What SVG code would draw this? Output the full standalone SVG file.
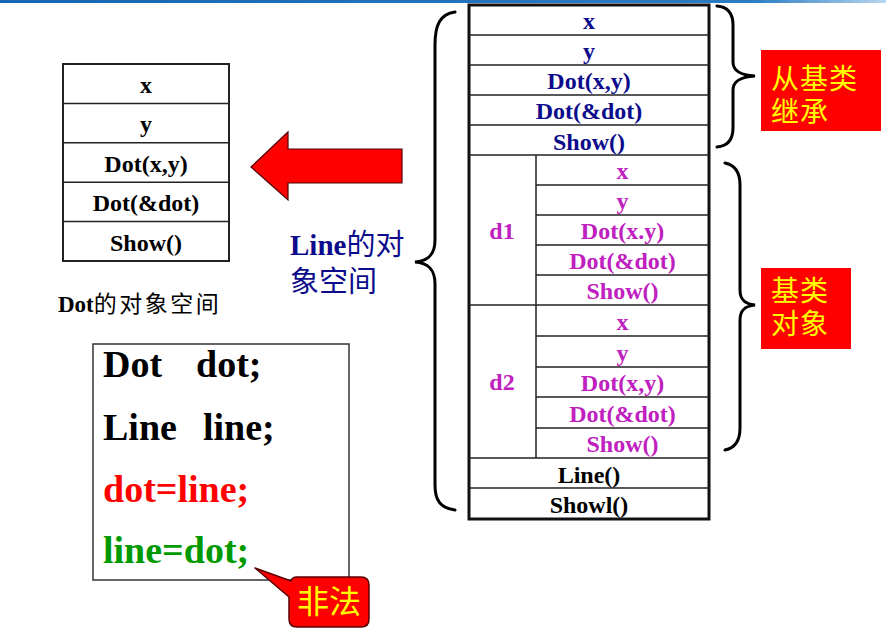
<svg xmlns="http://www.w3.org/2000/svg" width="886" height="634" viewBox="0 0 886 634">
<defs>
<linearGradient id="topbar" x1="0" y1="0" x2="1" y2="0">
<stop offset="0" stop-color="#1565b4"/>
<stop offset="0.85" stop-color="#2a7cc4"/>
<stop offset="1" stop-color="#b8d6ee"/>
</linearGradient>
<style>
.ser{font-family:"Liberation Serif","Times New Roman",serif;font-weight:bold;}
.cjk{font-family:"Noto Sans CJK SC","Noto Sans",sans-serif;font-weight:normal;}
.cjk2{font-family:"Liberation Sans","Noto Sans CJK SC",sans-serif;font-weight:normal;}
.t24{font-size:24px;text-anchor:middle;}
.navy{fill:#0b0b8c;}
.mag{fill:#c020c0;}
.blk{fill:#000;}
.ln{stroke:#222;stroke-width:1.5;fill:none;}
.brace{stroke:#000;stroke-width:3;fill:none;stroke-linecap:round;}
.ylw{fill:#ffff00;font-size:28px;letter-spacing:1px;}
.code{font-size:38px;}
</style>
</defs>
<rect width="886" height="634" fill="#fff"/>
<rect x="0" y="0" width="886" height="3" fill="url(#topbar)"/>

<g id="dot-table">
<rect x="63" y="64" width="166" height="197" fill="#fff" stroke="#222" stroke-width="2"/>
<path class="ln" d="M63,103.4H229M63,142.8H229M63,182.2H229M63,221.6H229"/>
<g class="ser t24 blk">
<text x="146" y="93">x</text>
<text x="146" y="132">y</text>
<text x="146" y="171.5">Dot(x,y)</text>
<text x="146" y="211">Dot(&amp;dot)</text>
<text x="146" y="250.5">Show()</text>
</g>
</g>

<g id="dot-label">
<text x="58" y="312" font-size="23"><tspan class="ser">Dot</tspan><tspan class="cjk" letter-spacing="2.5">的对象空间</tspan></text>
</g>

<g id="line-label">
<text x="290" y="255" font-size="29" class="navy"><tspan class="ser">Line</tspan><tspan class="cjk">的对</tspan></text>
<text x="290" y="292" font-size="29" class="navy cjk">象空间</text>
</g>

<g id="line-table">
<rect x="469" y="5" width="240" height="514" fill="#fff" stroke="#111" stroke-width="3"/>
<path class="ln" d="M469,35H709M469,65H709M469,95H709M469,125H709M469,155H709M536,185H709M536,215H709M536,245H709M536,275H709M469,305H709M536,336H709M536,367H709M536,397H709M536,428H709M469,458H709M469,488H709M536,155V458"/>
<g class="ser t24 navy">
<text x="589" y="29">x</text>
<text x="589" y="59">y</text>
<text x="589" y="89">Dot(x,y)</text>
<text x="589" y="119">Dot(&amp;dot)</text>
<text x="589" y="149.5">Show()</text>
</g>
<g class="ser t24 mag">
<text x="622.5" y="179">x</text>
<text x="622.5" y="209">y</text>
<text x="622.5" y="239">Dot(x.y)</text>
<text x="622.5" y="269">Dot(&amp;dot)</text>
<text x="622.5" y="299">Show()</text>
<text x="622.5" y="330">x</text>
<text x="622.5" y="360.5">y</text>
<text x="622.5" y="391">Dot(x,y)</text>
<text x="622.5" y="421.5">Dot(&amp;dot)</text>
<text x="622.5" y="452">Show()</text>
<text x="502" y="239">d1</text>
<text x="502" y="390">d2</text>
</g>
<g class="ser t24 blk">
<text x="589" y="482.5">Line()</text>
<text x="589" y="513">Showl()</text>
</g>
</g>

<g id="code-box">
<rect x="93" y="344" width="256" height="236" fill="#fff" stroke="#333" stroke-width="1.5"/>
<g class="ser code">
<text y="377" class="blk"><tspan x="103">Dot</tspan><tspan x="196">dot;</tspan></text>
<text y="440" class="blk"><tspan x="103">Line</tspan><tspan x="203">line;</tspan></text>
<text x="103" y="502" fill="#ff0000">dot=line;</text>
<text x="103" y="563" fill="#009a00">line=dot;</text>
</g>
</g>

<g id="callout-illegal">
<path d="M297,577 L361,577 Q369,577 369,585 L369,619 Q369,627 361,627 L297,627 Q289,627 289,619 L289,597 L255,568 L291,581 Q292,577 297,577 Z" fill="#ff0000" stroke="#5a0000" stroke-width="1.5" stroke-linejoin="round"/>
<text x="329" y="613" class="cjk" font-size="32" fill="#ffff00" text-anchor="middle">非法</text>
</g>

<g id="label-inherit">
<rect x="761" y="50" width="120" height="81" fill="#ff0000"/>
<text x="771" y="89" class="cjk2 ylw">从基类</text>
<text x="771" y="122" class="cjk2 ylw">继承</text>
</g>

<g id="label-base-obj">
<rect x="761" y="268" width="90" height="81" fill="#ff0000"/>
<text x="771" y="301" class="cjk2 ylw">基类</text>
<text x="771" y="334" class="cjk2 ylw">对象</text>
</g>

<g id="connectors">
<polygon points="251,167 288,132 288,149 402,149 402,183 288,183 288,200" fill="#ff0000" stroke="#500000" stroke-width="1.2" stroke-linejoin="miter"/>
<path class="brace" d="M455,12 C440,14 435,25 435,45 L435,240 C435,255 428,261 415,262 C428,263 435,269 435,284 L435,485 C435,500 440,508 455,510"/>
<path class="brace" d="M717,6 C728,7 733,13 733,25 L733,62 C733,71 740,75 755,76 C740,77 733,81 733,90 L733,128 C733,140 728,146 717,147"/>
<path class="brace" d="M725,163 C735,165 740,172 740,185 L740,290 C740,300 745,304 755,305 C745,306 740,310 740,320 L740,428 C740,441 735,448 725,450"/>
</g>
</svg>
